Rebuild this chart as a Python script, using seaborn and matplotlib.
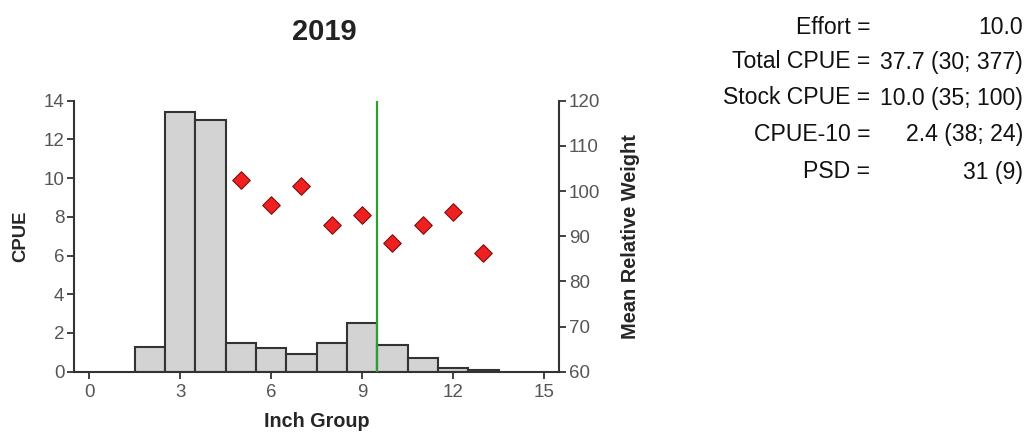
import matplotlib
matplotlib.use("Agg")
import matplotlib.pyplot as plt
import seaborn as sns
import pandas as pd

# Catch per unit effort by inch group
inch_group = [2, 3, 4, 5, 6, 7, 8, 9, 10, 11, 12, 13]
cpue = [1.3, 13.4, 13.0, 1.5, 1.2, 0.9, 1.5, 2.5, 1.4, 0.7, 0.2, 0.1]

# Mean relative weight by inch group
wr_group = [5, 6, 7, 8, 9, 10, 11, 12, 13]
mean_wr = [102.4, 96.8, 101.2, 92.4, 94.8, 88.4, 92.4, 95.3, 86.3]

# Reference length line
ref_length = 9.5

title = "2019"
stat_names = ["Effort =", "Total CPUE =", "Stock CPUE =", "CPUE-10 =", "PSD ="]
stat_values = ["10.0", "37.7 (30; 377)", "10.0 (35; 100)", "2.4 (38; 24)", "31 (9)"]

x_ticks = [0, 3, 6, 9, 12, 15]
cpue_ticks = [0, 2, 4, 6, 8, 10, 12, 14]
wr_ticks = [60, 70, 80, 90, 100, 110, 120]

sns.set_theme(style="white")
plt.rcParams["font.family"] = ["Liberation Sans", "DejaVu Sans"]

spine_col = "#333333"
tick_col = "#555555"

fig = plt.figure(figsize=(10.29, 4.33), dpi=100)
ax = fig.add_axes([0.0719, 0.1416, 0.4716, 0.6258])

df_len = pd.DataFrame({"inch": inch_group, "cpue": cpue})
sns.histplot(data=df_len, x="inch", weights="cpue", discrete=True, ax=ax,
             color="#d3d3d3", edgecolor=spine_col, linewidth=1.5, alpha=1.0,
             zorder=2)
ax.axvline(ref_length, color="#2ca02c", lw=1.6, zorder=4)

ax.set_xlim(-0.5, 15.5)
ax.set_ylim(0, 14)
ax.set_xticks(x_ticks)
ax.set_yticks(cpue_ticks)
ax.set_xlabel("Inch Group", fontsize=14.2, fontweight="bold", labelpad=8)
ax.set_ylabel("CPUE", fontsize=13.3, fontweight="bold", labelpad=10)

ax2 = ax.twinx()
df_wr = pd.DataFrame({"inch": wr_group, "wr": mean_wr})
sns.scatterplot(data=df_wr, x="inch", y="wr", ax=ax2, marker="D", s=80,
                color="#f02020", edgecolor="#7a1010", linewidth=0.8, zorder=5)
ax2.set_ylim(60, 120)
ax2.set_yticks(wr_ticks)
ax2.set_ylabel("Mean Relative Weight", fontsize=14.4, fontweight="bold", labelpad=15)
ax2.set_xlabel("")

for a in (ax, ax2):
    a.spines["top"].set_visible(False)
    for s in ("left", "right", "bottom"):
        a.spines[s].set_color(spine_col)
        a.spines[s].set_linewidth(1.5)
    a.tick_params(axis="both", which="both", length=5, width=1.3,
                  color=spine_col, labelcolor=tick_col, labelsize=13.5, pad=2)
ax.spines["right"].set_visible(False)
ax2.spines["left"].set_visible(False)
ax2.spines["bottom"].set_visible(False)
ax.tick_params(axis="x", bottom=True, pad=4)
ax.tick_params(axis="y", left=True)
ax2.tick_params(axis="y", right=True)

fig.text(0.315, 0.925, title, ha="center", va="center", fontsize=21,
         fontweight="bold", color="#222222")

row_y = [27, 62, 98, 135, 172]
for name, val, y in zip(stat_names, stat_values, row_y):
    fig.text(870 / 1029, 1 - y / 433, name, ha="right", va="center",
             fontsize=16.6, color="#111111")
    fig.text(1023 / 1029, 1 - y / 433, val, ha="right", va="center",
             fontsize=16.6, color="#111111")

fig.savefig("out.png", dpi=100)
